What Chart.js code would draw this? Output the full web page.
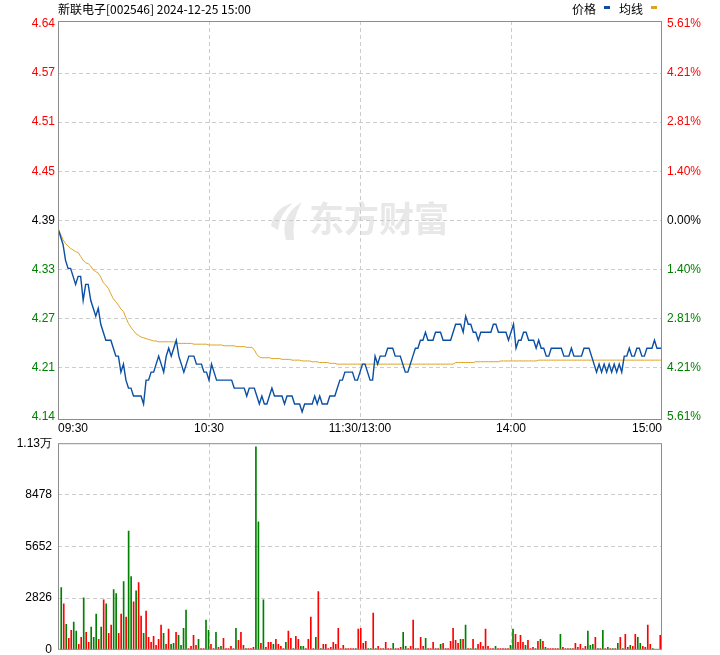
<!DOCTYPE html>
<html>
<head>
<meta charset="utf-8">
<script src="https://cdn.jsdelivr.net/npm/chart.js@4.4.1/dist/chart.umd.min.js"></script>
<style>
  html, body { margin: 0; padding: 0; background: #fff; overflow: hidden; }
  #wrap { position: relative; width: 720px; height: 655px; overflow: hidden; }
  #price-box { position: absolute; left: 0; top: 0; width: 720px; height: 440px; }
  #vol-box { position: absolute; left: 0; top: 430px; width: 720px; height: 233px; }
</style>
</head>
<body>
<div id="wrap">
  <div id="price-box"><canvas id="price-chart"></canvas></div>
  <div id="vol-box"><canvas id="vol-chart"></canvas></div>
</div>
<script>
const title = "新联电子[002546] 2024-12-25 15:00";
const prevClose = 4.39;

// one value per trading minute, 09:30 .. 15:00
const price = [
  4.38, 4.37, 4.36, 4.34, 4.33, 4.33, 4.32, 4.31, 4.32, 4.32,
  4.29, 4.31, 4.31, 4.29, 4.28, 4.27, 4.28, 4.26, 4.25, 4.24,
  4.24, 4.24, 4.23, 4.22, 4.22, 4.20, 4.21, 4.19, 4.18, 4.18,
  4.17, 4.17, 4.17, 4.17, 4.16, 4.19, 4.19, 4.20, 4.20, 4.21,
  4.22, 4.21, 4.20, 4.22, 4.23, 4.22, 4.23, 4.24, 4.22, 4.21,
  4.20, 4.21, 4.22, 4.22, 4.22, 4.21, 4.21, 4.21, 4.20, 4.20,
  4.19, 4.21, 4.20, 4.19, 4.19, 4.19, 4.19, 4.19, 4.19, 4.19,
  4.18, 4.18, 4.18, 4.18, 4.18, 4.17, 4.18, 4.18, 4.18, 4.17,
  4.16, 4.17, 4.16, 4.16, 4.17, 4.18, 4.17, 4.17, 4.17, 4.17,
  4.16, 4.17, 4.17, 4.17, 4.16, 4.16, 4.16, 4.15, 4.16, 4.16,
  4.16, 4.16, 4.17, 4.16, 4.17, 4.16, 4.16, 4.16, 4.17, 4.17,
  4.17, 4.18, 4.19, 4.19, 4.20, 4.20, 4.20, 4.20, 4.19, 4.19,
  4.20, 4.21, 4.21, 4.20, 4.19, 4.19, 4.22, 4.21, 4.22, 4.22,
  4.22, 4.23, 4.23, 4.23, 4.22, 4.22, 4.22, 4.21, 4.20, 4.20,
  4.21, 4.22, 4.23, 4.23, 4.24, 4.24, 4.25, 4.24, 4.24, 4.24,
  4.25, 4.25, 4.25, 4.24, 4.24, 4.24, 4.24, 4.25, 4.26, 4.26,
  4.26, 4.25, 4.27, 4.26, 4.26, 4.25, 4.25, 4.24, 4.25, 4.25,
  4.25, 4.25, 4.25, 4.26, 4.26, 4.25, 4.25, 4.25, 4.25, 4.24,
  4.25, 4.26, 4.23, 4.24, 4.24, 4.25, 4.25, 4.24, 4.24, 4.24,
  4.23, 4.24, 4.23, 4.23, 4.22, 4.22, 4.23, 4.23, 4.23, 4.23,
  4.23, 4.22, 4.22, 4.22, 4.23, 4.22, 4.22, 4.22, 4.22, 4.23,
  4.23, 4.23, 4.22, 4.21, 4.20, 4.21, 4.20, 4.21, 4.20, 4.21,
  4.20, 4.21, 4.20, 4.21, 4.20, 4.22, 4.22, 4.23, 4.22, 4.22,
  4.23, 4.23, 4.22, 4.22, 4.23, 4.23, 4.23, 4.24, 4.23, 4.23,
  4.23,
];

const avgPrice = [
  4.380, 4.373, 4.366, 4.361, 4.358, 4.355, 4.353, 4.351, 4.350, 4.345,
  4.340, 4.337, 4.336, 4.333, 4.328, 4.326, 4.324, 4.319, 4.312, 4.309,
  4.305, 4.298, 4.292, 4.288, 4.284, 4.279, 4.276, 4.268, 4.261, 4.256,
  4.252, 4.248, 4.246, 4.244, 4.243, 4.242, 4.241, 4.240, 4.239, 4.239,
  4.238, 4.238, 4.238, 4.238, 4.238, 4.238, 4.238, 4.237, 4.236, 4.236,
  4.236, 4.236, 4.236, 4.236, 4.235, 4.235, 4.235, 4.235, 4.235, 4.235,
  4.234, 4.234, 4.234, 4.234, 4.234, 4.234, 4.233, 4.233, 4.233, 4.233,
  4.233, 4.232, 4.232, 4.232, 4.232, 4.231, 4.231, 4.231, 4.228, 4.222,
  4.219, 4.218, 4.218, 4.218, 4.218, 4.217, 4.217, 4.217, 4.217, 4.216,
  4.216, 4.216, 4.216, 4.215, 4.215, 4.215, 4.215, 4.214, 4.214, 4.214,
  4.214, 4.213, 4.213, 4.213, 4.212, 4.212, 4.212, 4.212, 4.211, 4.211,
  4.211, 4.210, 4.210, 4.210, 4.210, 4.210, 4.210, 4.210, 4.210, 4.210,
  4.210, 4.210, 4.210, 4.210, 4.210, 4.210, 4.210, 4.210, 4.210, 4.210,
  4.210, 4.210, 4.210, 4.210, 4.210, 4.210, 4.210, 4.210, 4.210, 4.210,
  4.210, 4.210, 4.210, 4.210, 4.210, 4.210, 4.210, 4.210, 4.210, 4.210,
  4.210, 4.210, 4.210, 4.210, 4.210, 4.210, 4.210, 4.210, 4.212, 4.212,
  4.212, 4.212, 4.212, 4.212, 4.212, 4.212, 4.213, 4.213, 4.213, 4.213,
  4.213, 4.213, 4.213, 4.213, 4.213, 4.213, 4.214, 4.214, 4.214, 4.214,
  4.214, 4.214, 4.214, 4.214, 4.214, 4.214, 4.214, 4.214, 4.214, 4.214,
  4.214, 4.215, 4.215, 4.215, 4.215, 4.215, 4.215, 4.215, 4.215, 4.215,
  4.215, 4.215, 4.215, 4.215, 4.215, 4.215, 4.215, 4.215, 4.215, 4.215,
  4.215, 4.215, 4.215, 4.215, 4.215, 4.215, 4.215, 4.215, 4.215, 4.215,
  4.215, 4.215, 4.215, 4.215, 4.215, 4.215, 4.215, 4.215, 4.215, 4.215,
  4.215, 4.215, 4.215, 4.215, 4.215, 4.215, 4.215, 4.215, 4.215, 4.215,
  4.215,
];

const volume = [
  3400, 2510, 1400, 630, 1070, 1520, 1020, 300, 680, 2840,
  960, 410, 1240, 680, 1960, 570, 1240, 2730, 2510, 900,
  1350, 3290, 3070, 900, 1960, 3730, 1790, 6500, 4010, 2620,
  3230, 3680, 1850, 900, 2120, 680, 410, 740, 240, 570,
  1350, 900, 300, 1130, 300, 350, 960, 790, 240, 1180,
  2180, 70, 190, 790, 240, 570, 70, 70, 1630, 1070,
  300, 70, 960, 130, 190, 630, 70, 70, 190, 70,
  1180, 520, 960, 240, 70, 70, 70, 130, 11100, 7000,
  350, 2730, 130, 410, 410, 300, 570, 300, 190, 70,
  410, 1020, 630, 70, 740, 570, 190, 190, 70, 570,
  1790, 70, 680, 3180, 70, 300, 300, 70, 130, 410,
  300, 1180, 70, 240, 70, 70, 70, 70, 70, 1130,
  1180, 350, 460, 70, 70, 2010, 70, 190, 70, 70,
  410, 70, 70, 350, 70, 70, 130, 960, 190, 70,
  190, 1630, 70, 70, 680, 190, 630, 70, 70, 410,
  70, 70, 300, 350, 70, 70, 460, 1180, 520, 350,
  570, 570, 1350, 70, 70, 570, 70, 300, 410, 190,
  1130, 190, 70, 70, 190, 70, 70, 70, 70, 70,
  240, 1130, 850, 410, 790, 410, 240, 520, 70, 130,
  70, 460, 570, 460, 130, 70, 70, 70, 70, 70,
  850, 130, 70, 70, 70, 70, 350, 130, 300, 70,
  190, 1020, 240, 300, 680, 70, 70, 1070, 70, 130,
  70, 70, 70, 350, 680, 70, 850, 130, 240, 190,
  850, 680, 350, 190, 130, 1350, 300, 70, 0, 0,
  790,
];

// r = up bar, g = down bar
const volSide = (
  "grgrrggrrg" + "rrgggrgrgr" + "rggrrgrggr" + "grrgrrrrrr" +
  "rgrrggrggg" + "grrrrgrrgg" + "rrgrgrrrrr" + "grrrgrrrgg" +
  "rgrrrgrrrr" + "grrgrrggrr" + "rrgrgrrrrr" + "rrrrrrrrgr" +
  "rrrggrgrrr" + "rrrgrrrggr" + "rrrrrrgrrr" + "rrgrrrrrrr" +
  "grgrgrgrrr" + "rrrrgrrrrr" + "ggrrrrgrrr" + "grgrgrrrrr" +
  "grrrgrrrrr" + "rgggrgrgrg" + "rgrgrgrrgr" + "rggrrrrgrr" +
  "r"
).split("");

const timeTickPos = [0, 60, 120, 180, 240];
const timeTickLabels = ["09:30", "10:30", "11:30/13:00", "14:00", "15:00"];

// bottom to top
const priceTicks = [4.1437, 4.2053, 4.2668, 4.3284, 4.39, 4.4516, 4.5132, 4.5747, 4.6363];
const priceTickLabels = ["4.14", "4.21", "4.27", "4.33", "4.39", "4.45", "4.51", "4.57", "4.64"];
const pctTickLabels = ["5.61%", "4.21%", "2.81%", "1.40%", "0.00%", "1.40%", "2.81%", "4.21%", "5.61%"];

const volTicks = [0, 2826, 5652, 8478, 11304];
const volTickLabels = ["0", "2826", "5652", "8478", "1.13万"];

const BLUE = "#0b4fa2";
const ORANGE = "#dea324";
const RED = "#ff0000";
const GREEN = "#008000";
const GRID = "#cccccc";
const FRAME = "#8c8c8c";
const DASH = [4, 3];
const TICK_FONT = { family: '"Liberation Sans", Arial, sans-serif', size: 12 };
const CJK = '"Noto Sans CJK SC", sans-serif';
const CLEAR = "rgba(0,0,0,0)";

const innerGrid = (ctx) =>
  ctx.index === 0 || ctx.index === ctx.scale.ticks.length - 1 ? CLEAR : GRID;
const sideColor = (v) => (v > prevClose + 1e-6 ? RED : v < prevClose - 1e-6 ? GREEN : "#000");
const setTicks = (vals) => (axis) => {
  axis.ticks = vals.map((v) => ({ value: v }));
};
const fixWidth = (w) => (scale) => {
  scale.width = w;
};

const framePlugin = {
  id: "frame",
  afterDraw(chart) {
    const { ctx, chartArea: a } = chart;
    ctx.save();
    ctx.strokeStyle = FRAME;
    ctx.lineWidth = 1;
    ctx.strokeRect(a.left + 0.5, a.top + 0.5, a.right - a.left - 1, a.bottom - a.top - 1);
    ctx.restore();
  },
};

const watermarkPlugin = {
  id: "watermark",
  beforeDraw(chart) {
    const { ctx } = chart;
    ctx.save();
    ctx.fillStyle = "#e8e8e8";
    ctx.beginPath();
    ctx.moveTo(286, 240);
    ctx.quadraticCurveTo(279, 216, 302, 202);
    ctx.quadraticCurveTo(291, 220, 294, 240);
    ctx.closePath();
    ctx.fill();
    ctx.beginPath();
    ctx.moveTo(271, 226);
    ctx.quadraticCurveTo(274, 208, 293, 203);
    ctx.quadraticCurveTo(280, 213, 278, 230);
    ctx.closePath();
    ctx.fill();
    ctx.font = `bold 35px ${CJK}`;
    ctx.textBaseline = "middle";
    ctx.fillText("东方财富", 309, 219);
    ctx.restore();
  },
};

const headerPlugin = {
  id: "header",
  afterDraw(chart) {
    const { ctx, chartArea: a, scales } = chart;
    ctx.save();
    ctx.fillStyle = "#000";
    ctx.textBaseline = "middle";
    ctx.font = `12px ${CJK}`;
    ctx.textAlign = "left";
    ctx.fillText(title, 58, 9);

    // legend: 价格 ▬ 均线 ▬
    let x = 657;
    [["均线", ORANGE], ["价格", BLUE]].forEach(([name, color]) => {
      x -= 6;
      ctx.fillStyle = color;
      ctx.fillRect(x, 6, 6, 3);
      x -= 8;
      ctx.fillStyle = "#000";
      ctx.textAlign = "right";
      ctx.fillText(name, x, 9);
      x -= ctx.measureText(name).width + 9;
    });

    ctx.font = `12px ${TICK_FONT.family}`;
    timeTickPos.forEach((pos, i) => {
      const px = scales.x.getPixelForValue(pos);
      ctx.textAlign = i === 0 ? "left" : i === timeTickPos.length - 1 ? "right" : "center";
      ctx.fillText(timeTickLabels[i], px, a.bottom + 9);
    });
    ctx.restore();
  },
};

const priceAxis = (position, labels, padding) => ({
  position,
  min: 4.14,
  max: 4.64,
  afterBuildTicks: setTicks(priceTicks),
  afterFit: fixWidth(58),
  ticks: {
    font: TICK_FONT,
    padding,
    color: (ctx) => sideColor(ctx.tick.value),
    callback: (v, i) => labels[i],
  },
  grid: { color: position === "left" ? innerGrid : CLEAR, drawTicks: false },
  border: { display: false, dash: DASH },
});

const hiddenX = (extra) => ({
  type: "linear",
  position: "bottom",
  offset: false,
  ticks: { display: false },
  grid: { display: false, drawTicks: false },
  border: { display: false },
  ...extra,
});

new Chart(document.getElementById("price-chart"), {
  type: "line",
  data: {
    datasets: [
      {
        label: "价格",
        data: price.map((v, i) => ({ x: i, y: v })),
        borderColor: BLUE,
        borderWidth: 1.4,
        pointRadius: 0,
        tension: 0,
        yAxisID: "y",
      },
      {
        label: "均线",
        data: avgPrice.map((v, i) => ({ x: i, y: v })),
        borderColor: ORANGE,
        borderWidth: 1,
        pointRadius: 0,
        tension: 0,
        yAxisID: "y",
      },
    ],
  },
  options: {
    responsive: true,
    maintainAspectRatio: false,
    animation: false,
    devicePixelRatio: 1,
    events: [],
    layout: { autoPadding: false, padding: { top: 21, bottom: 20, left: 0, right: 0 } },
    plugins: { legend: { display: false }, tooltip: { enabled: false } },
    scales: {
      x: hiddenX({
        min: 0,
        max: 240,
        afterBuildTicks: setTicks(timeTickPos.slice(1, -1)),
        grid: { display: true, color: GRID, drawTicks: false, offset: false },
        border: { display: false, dash: DASH },
      }),
      y: priceAxis("left", priceTickLabels, 3),
      y2: priceAxis("right", pctTickLabels, 5),
    },
  },
  plugins: [watermarkPlugin, framePlugin, headerPlugin],
});

new Chart(document.getElementById("vol-chart"), {
  type: "bar",
  data: {
    datasets: [
      {
        label: "成交量",
        data: volume.map((v, i) => ({ x: i, y: v })),
        backgroundColor: volSide.map((s) => (s === "r" ? RED : GREEN)),
        borderWidth: 0,
        barThickness: 1,
        xAxisID: "x",
        yAxisID: "y",
      },
    ],
  },
  options: {
    responsive: true,
    maintainAspectRatio: false,
    animation: false,
    devicePixelRatio: 1,
    events: [],
    layout: { autoPadding: false, padding: { top: 13, bottom: 6, left: 0, right: 58 } },
    plugins: { legend: { display: false }, tooltip: { enabled: false } },
    scales: {
      x: hiddenX({ min: -1.3, max: 240.7 }),
      xg: hiddenX({
        min: 0,
        max: 240,
        afterBuildTicks: setTicks(timeTickPos.slice(1, -1)),
        grid: { display: true, color: GRID, drawTicks: false, offset: false },
        border: { display: false, dash: DASH },
      }),
      y: {
        position: "left",
        min: 0,
        max: 11304,
        afterBuildTicks: setTicks(volTicks),
        afterFit: fixWidth(58),
        ticks: { font: TICK_FONT, padding: 6, color: "#000", callback: (v, i) => volTickLabels[i] },
        grid: { color: innerGrid, drawTicks: false },
        border: { display: false, dash: DASH },
      },
    },
  },
  plugins: [framePlugin],
});
</script>
</body>
</html>
